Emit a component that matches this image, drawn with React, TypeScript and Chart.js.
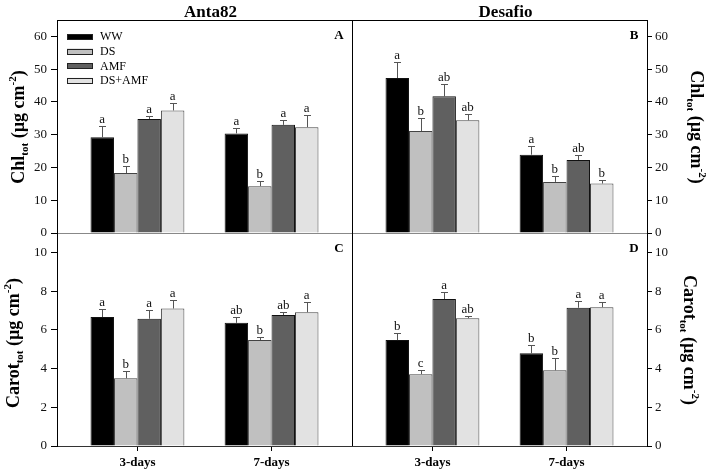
import React, { useEffect, useRef } from 'react';
import { Chart, registerables } from 'chart.js';

Chart.register(...registerables);

// ---------------- data ----------------
const categories = ['3-days', '7-days'];
const treatments = ['WW', 'DS', 'AMF', 'DS+AMF'];

const chlTicks = [0, 10, 20, 30, 40, 50, 60];
const carotTicks = [0, 2, 4, 6, 8, 10];

// rows: WW, DS, AMF, DS+AMF ; columns: 3-days, 7-days
const anta82ChlMean = [[29.2, 30.4], [18.3, 14.3], [34.8, 33.0], [37.4, 32.3]];
const anta82ChlSE = [[3.6, 1.6], [2.0, 1.6], [1.0, 1.6], [2.2, 3.6]];
const anta82ChlLetters = [['a', 'a'], ['b', 'b'], ['a', 'a'], ['a', 'a']];

const desafioChlMean = [[47.3, 23.9], [31.1, 15.6], [41.7, 22.3], [34.4, 15.1]];
const desafioChlSE = [[4.8, 2.5], [3.9, 1.7], [3.8, 1.6], [1.8, 1.0]];
const desafioChlLetters = [['a', 'a'], ['b', 'b'], ['ab', 'ab'], ['ab', 'b']];

const anta82CarotMean = [[6.66, 6.36], [3.50, 5.47], [6.57, 6.76], [7.10, 6.91]];
const anta82CarotSE = [[0.43, 0.28], [0.36, 0.15], [0.45, 0.15], [0.43, 0.54]];
const anta82CarotLetters = [['a', 'ab'], ['b', 'b'], ['a', 'ab'], ['a', 'a']];

const desafioCarotMean = [[5.47, 4.79], [3.71, 3.91], [7.59, 7.14], [6.60, 7.17]];
const desafioCarotSE = [[0.37, 0.42], [0.20, 0.61], [0.38, 0.34], [0.09, 0.28]];
const desafioCarotLetters = [['b', 'b'], ['c', 'b'], ['a', 'a'], ['ab', 'a']];

// ---------------- styling / layout ----------------
const FONT = "'Liberation Serif', 'Times New Roman', Times, serif";
const fills = ['#000000', '#c0c0c0', '#606060', '#e2e2e2'];
const borders = ['#111111', '#444444', '#111111', '#444444'];

const W = 709;
const H = 469;
const PL = 57;
const PM = 352;
const PR = 647;
const PT = 20;
const PMID = 233;
const PB = 446;

type Part = { t: string; size: number; dy: number };

const chlLabel: Part[] = [
  { t: 'Chl', size: 18, dy: 0 },
  { t: 'tot', size: 11, dy: 4 },
  { t: ' (µg cm', size: 18, dy: 0 },
  { t: '-2', size: 11, dy: -8 },
  { t: ')', size: 18, dy: 0 },
];
const carotLabel: Part[] = [
  { t: 'Carot', size: 18, dy: 0 },
  { t: 'tot', size: 11, dy: 4 },
  { t: ' (µg cm', size: 18, dy: 0 },
  { t: '-2', size: 11, dy: -8 },
  { t: ')', size: 18, dy: 0 },
];

type Spec = {
  id: string;
  side: 'left' | 'right';
  row: 'top' | 'bottom';
  means: number[][];
  se: number[][];
  letters: string[][];
  ticks: number[];
  yMax: number;
  title?: string;
  label: Part[];
  labelX: number;
  labelY: number;
  legend: boolean;
};

const specs: Spec[] = [
  { id: 'A', side: 'left', row: 'top', means: anta82ChlMean, se: anta82ChlSE, letters: anta82ChlLetters, ticks: chlTicks, yMax: 65, title: 'Anta82', label: chlLabel, labelX: 24, labelY: 127, legend: true },
  { id: 'B', side: 'right', row: 'top', means: desafioChlMean, se: desafioChlSE, letters: desafioChlLetters, ticks: chlTicks, yMax: 65, title: 'Desafio', label: chlLabel, labelX: 691, labelY: 127, legend: false },
  { id: 'C', side: 'left', row: 'bottom', means: anta82CarotMean, se: anta82CarotSE, letters: anta82CarotLetters, ticks: carotTicks, yMax: 11, label: carotLabel, labelX: 18.5, labelY: 343, legend: false },
  { id: 'D', side: 'right', row: 'bottom', means: desafioCarotMean, se: desafioCarotSE, letters: desafioCarotLetters, ticks: carotTicks, yMax: 11, label: carotLabel, labelX: 683.5, labelY: 340, legend: false },
];

function drawRich(ctx: CanvasRenderingContext2D, parts: Part[], x: number, y: number, angle: number) {
  ctx.save();
  ctx.translate(x, y);
  ctx.rotate(angle);
  ctx.textBaseline = 'alphabetic';
  ctx.textAlign = 'left';
  ctx.fillStyle = '#000';
  let total = 0;
  const widths = parts.map((p) => {
    ctx.font = `bold ${p.size}px ${FONT}`;
    const w = ctx.measureText(p.t).width;
    total += w;
    return w;
  });
  let cx = -total / 2;
  parts.forEach((p, i) => {
    ctx.font = `bold ${p.size}px ${FONT}`;
    ctx.fillText(p.t, cx, p.dy);
    cx += widths[i];
  });
  ctx.restore();
}

function makeConfig(p: Spec): any {
  const isLeft = p.side === 'left';
  const isTop = p.row === 'top';
  const area = {
    left: isLeft ? PL : PM,
    right: isLeft ? PM : PR,
    top: isTop ? PT : PMID,
    bottom: isTop ? PMID : PB,
  };
  const yAxisW = isLeft ? PL : 40;
  const xAxisH = isTop ? 0 : H - PB;
  const padding = {
    left: isLeft ? 0 : area.left,
    right: isLeft ? W - area.right : W - area.right - yAxisW,
    top: area.top,
    bottom: isTop ? H - area.bottom : 0,
  };

  const decor = {
    id: 'decor' + p.id,
    afterDatasetsDraw(chart: any) {
      const ctx: CanvasRenderingContext2D = chart.ctx;
      const ys = chart.scales.y;
      ctx.save();
      chart.data.datasets.forEach((_ds: any, i: number) => {
        const meta = chart.getDatasetMeta(i);
        meta.data.forEach((bar: any, j: number) => {
          const mean = p.means[i][j];
          const top = mean + p.se[i][j];
          const yb = ys.getPixelForValue(mean);
          const yt = Math.round(ys.getPixelForValue(top)) + 0.5;
          const x = Math.round(bar.x) + 0.5;
          ctx.strokeStyle = '#555';
          ctx.lineWidth = 1;
          ctx.beginPath();
          ctx.moveTo(x, yb);
          ctx.lineTo(x, yt);
          ctx.moveTo(x - 3.5, yt);
          ctx.lineTo(x + 3.5, yt);
          ctx.stroke();
          ctx.fillStyle = '#111';
          ctx.font = `13px ${FONT}`;
          ctx.textAlign = 'center';
          ctx.textBaseline = 'alphabetic';
          ctx.fillText(p.letters[i][j], bar.x, yt - 4);
        });
      });
      ctx.restore();
    },
    afterDraw(chart: any) {
      const ctx: CanvasRenderingContext2D = chart.ctx;
      const ca = chart.chartArea;
      ctx.save();
      // frame
      ctx.strokeStyle = '#000';
      ctx.lineWidth = 1;
      ctx.beginPath();
      if (isTop) {
        ctx.moveTo(ca.left, Math.round(ca.top) + 0.5);
        ctx.lineTo(ca.right, Math.round(ca.top) + 0.5);
      }
      if (isLeft) {
        ctx.moveTo(Math.round(ca.right) + 0.5, ca.top);
        ctx.lineTo(Math.round(ca.right) + 0.5, ca.bottom);
      }
      ctx.stroke();
      // panel letter
      ctx.fillStyle = '#000';
      ctx.font = `bold 13px ${FONT}`;
      ctx.textAlign = 'center';
      ctx.textBaseline = 'middle';
      ctx.fillText(p.id, ca.right - 13, ca.top + 16);
      // title
      if (p.title) {
        ctx.font = `bold 17px ${FONT}`;
        ctx.textAlign = 'center';
        ctx.textBaseline = 'alphabetic';
        ctx.fillText(p.title, (ca.left + ca.right) / 2 + 6, 17);
      }
      // legend
      if (p.legend) {
        chart.data.datasets.forEach((ds: any, i: number) => {
          const cy = ca.top + 16.7 + i * 14.6;
          ctx.fillStyle = ds.backgroundColor;
          ctx.fillRect(ca.left + 10, cy - 2.7, 26, 5.4);
          ctx.strokeStyle = '#222';
          ctx.lineWidth = 1;
          ctx.strokeRect(ca.left + 10.5, Math.round(cy - 2.7) + 0.5, 25, 5);
          ctx.fillStyle = '#000';
          ctx.font = `12px ${FONT}`;
          ctx.textAlign = 'left';
          ctx.textBaseline = 'middle';
          ctx.fillText(ds.label, ca.left + 43, cy + 0.5);
        });
      }
      ctx.restore();
      drawRich(ctx, p.label, p.labelX, p.labelY, isLeft ? -Math.PI / 2 : Math.PI / 2);
    },
  };

  return {
    type: 'bar',
    data: {
      datasets: treatments.map((t, i) => ({
        label: t,
        data: categories.map((_c, j) => ({ x: j, y: p.means[i][j] })),
        backgroundColor: fills[i],
        borderColor: borders[i],
        borderWidth: 1,
        categoryPercentage: 0.7,
        barPercentage: 1,
      })),
    },
    options: {
      animation: false,
      responsive: false,
      devicePixelRatio: 1,
      events: [],
      layout: { padding },
      plugins: {
        legend: { display: false },
        tooltip: { enabled: false },
        title: { display: false },
      },
      scales: {
        x: {
          type: 'linear',
          min: -0.6,
          max: 1.6,
          offset: false,
          afterBuildTicks: (s: any) => {
            s.ticks = categories.map((_c, j) => ({ value: j }));
          },
          afterFit: (s: any) => {
            s.height = xAxisH;
          },
          ticks: {
            display: !isTop,
            autoSkip: false,
            maxRotation: 0,
            padding: 4,
            color: '#000',
            font: { family: FONT, size: 13, weight: 'bold' },
            callback: (v: any) => categories[v] ?? '',
          },
          grid: {
            display: true,
            offset: false,
            drawOnChartArea: false,
            drawTicks: !isTop,
            tickLength: 5,
            color: '#000',
          },
          border: { display: true, color: isTop ? '#888' : '#333' },
        },
        y: {
          type: 'linear',
          position: isLeft ? 'left' : 'right',
          min: 0,
          max: p.yMax,
          afterBuildTicks: (s: any) => {
            s.ticks = p.ticks.map((v) => ({ value: v }));
          },
          afterFit: (s: any) => {
            s.width = yAxisW;
          },
          ticks: {
            padding: isLeft ? 4 : 3,
            color: '#111',
            font: { family: FONT, size: 13 },
          },
          grid: {
            drawOnChartArea: false,
            drawTicks: true,
            tickLength: isLeft ? 6 : 5,
            color: '#000',
          },
          border: { display: true, color: '#000' },
        },
      },
    },
    plugins: [decor],
  };
}

function Panel({ spec }: { spec: Spec }) {
  const ref = useRef<HTMLCanvasElement>(null);
  useEffect(() => {
    if (!ref.current) return;
    const chart = new Chart(ref.current, makeConfig(spec));
    return () => chart.destroy();
  }, [spec]);
  return (
    <canvas
      ref={ref}
      width={W}
      height={H}
      style={{ position: 'absolute', left: 0, top: 0, width: W, height: H }}
    />
  );
}

export default function App() {
  return (
    <div
      style={{
        position: 'fixed',
        left: 0,
        top: 0,
        width: W,
        height: H,
        background: '#fff',
        overflow: 'hidden',
      }}
    >
      {specs.map((s) => (
        <Panel key={s.id} spec={s} />
      ))}
    </div>
  );
}
